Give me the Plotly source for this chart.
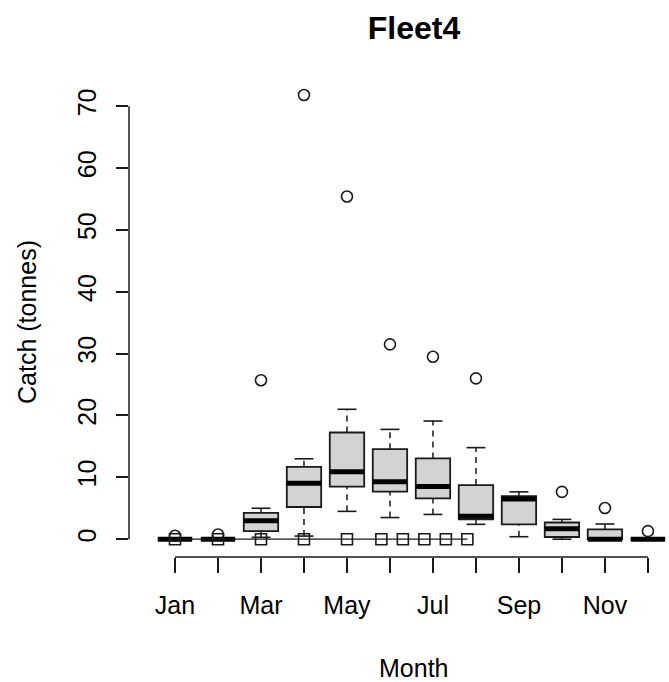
import plotly.graph_objects as go

# ---- data ----
months = ["Jan", "Feb", "Mar", "Apr", "May", "Jun", "Jul", "Aug", "Sep", "Oct", "Nov", "Dec"]
month_tick_text = ["Jan", "", "Mar", "", "May", "", "Jul", "", "Sep", "", "Nov", ""]
month_pos = [1, 2, 3, 4, 5, 6, 7, 8, 9, 10, 11, 12]

q1 = [0, 0, 1.3, 5.2, 8.5, 7.7, 6.6, 3.2, 2.4, 0.35, 0, 0]
median = [0, 0, 3.0, 9.05, 10.9, 9.3, 8.5, 3.7, 6.5, 1.7, 0, 0]
q3 = [0, 0, 4.25, 11.7, 17.25, 14.55, 13.05, 8.75, 6.95, 2.7, 1.6, 0]
whisker_low = [0, 0, 0.3, 0.5, 4.5, 3.5, 4.0, 2.4, 0.4, 0, 0, 0]
whisker_high = [0, 0, 5.0, 13.0, 21.0, 17.75, 19.1, 14.8, 7.65, 3.2, 2.45, 0]

outlier_month = [1, 2, 3, 4, 5, 6, 7, 8, 10, 11, 12]
outlier_value = [0.55, 0.75, 25.7, 71.8, 55.4, 31.5, 29.5, 26.0, 7.65, 5.05, 1.3]

obs_x = [1, 2, 3, 4, 5, 5.8, 6.3, 6.8, 7.3, 7.8]
obs_y = [0, 0, 0, 0, 0, 0, 0, 0, 0, 0]

y_ticks = [0, 10, 20, 30, 40, 50, 60, 70]

# ---- style ----
INK = "#1a1a1a"
FONT = "Liberation Sans, Arial, sans-serif"
BOXW = 0.8
STAPLE = 0.22
FS = 25

fig = go.Figure()

# whiskers (dashed)
wx, wy = [], []
for p, a, b, c, d in zip(month_pos, whisker_low, q1, q3, whisker_high):
    wx += [p, p, None, p, p, None]
    wy += [a, b, None, c, d, None]
fig.add_trace(go.Scatter(x=wx, y=wy, mode="lines", hoverinfo="skip",
                         line=dict(color=INK, width=1.5, dash="6px,5px"), showlegend=False))

# staples
sx, sy = [], []
for p, a, d in zip(month_pos, whisker_low, whisker_high):
    sx += [p - STAPLE, p + STAPLE, None, p - STAPLE, p + STAPLE, None]
    sy += [a, a, None, d, d, None]
fig.add_trace(go.Scatter(x=sx, y=sy, mode="lines", hoverinfo="skip",
                         line=dict(color=INK, width=1.6), showlegend=False))

# boxes
fig.add_trace(go.Box(x=month_pos, q1=q1, median=median, q3=q3,
                     lowerfence=q1, upperfence=q3, width=BOXW,
                     fillcolor="#D3D3D3", line=dict(color=INK, width=1.8),
                     whiskerwidth=0, boxpoints=False, showlegend=False))

# thick medians
mx, my = [], []
for p, m in zip(month_pos, median):
    mx += [p - BOXW / 2, p + BOXW / 2, None]
    my += [m, m, None]
fig.add_trace(go.Scatter(x=mx, y=my, mode="lines", hoverinfo="skip",
                         line=dict(color="#000000", width=5), showlegend=False))

# outliers
fig.add_trace(go.Scatter(x=outlier_month, y=outlier_value, mode="markers",
                         marker=dict(symbol="circle-open", size=11, color=INK,
                                     line=dict(width=1.6, color=INK)),
                         showlegend=False))

# observed line with squares
fig.add_trace(go.Scatter(x=obs_x, y=obs_y, mode="lines+markers",
                         line=dict(color=INK, width=1.3),
                         marker=dict(symbol="square-open", size=11, color=INK,
                                     line=dict(width=1.6, color=INK)),
                         showlegend=False))

W, H = 669, 682
ML, MR, MT, MB = 129, 0, 76, 125

fig.update_layout(
    width=W, height=H,
    margin=dict(l=ML, r=MR, t=MT, b=MB, autoexpand=False),
    paper_bgcolor="white", plot_bgcolor="white",
    font=dict(family=FONT, size=FS, color="#000000"),
    title=dict(text="<b>Fleet4</b>", font=dict(size=32, family=FONT, color="#000000"),
               xref="container", yref="container", x=414 / W, y=1 - 28 / H,
               xanchor="center", yanchor="middle"),
    xaxis=dict(range=[-0.07, 12.49], showgrid=False, zeroline=False, showline=False,
               tickmode="array", tickvals=month_pos, ticktext=month_tick_text,
               ticks="outside", ticklen=15, tickwidth=1.5, tickcolor=INK,
               ticklabelstandoff=11, tickfont=dict(size=FS)),
    yaxis=dict(range=[-2.88, 74.88], showgrid=False, zeroline=False, showline=False,
               tickmode="array", tickvals=y_ticks, ticktext=[str(v) for v in y_ticks],
               ticks="outside", ticklen=12, tickwidth=1.5, tickcolor=INK,
               tickangle=-90, ticklabelstandoff=10, tickfont=dict(size=FS)),
    shapes=[
        dict(type="line", xref="x", yref="paper", x0=month_pos[0], x1=month_pos[-1],
             y0=0, y1=0, line=dict(color=INK, width=1.5)),
        dict(type="line", xref="paper", yref="y", x0=0, x1=0,
             y0=y_ticks[0], y1=y_ticks[-1], line=dict(color=INK, width=1.5)),
    ],
    annotations=[
        dict(text="Month", xref="paper", yref="paper", x=(413 - ML) / (W - ML - MR),
             y=-(668 - (H - MB)) / (H - MT - MB), xanchor="center", yanchor="middle",
             showarrow=False, font=dict(size=FS)),
        dict(text="Catch (tonnes)", xref="paper", yref="paper", x=(27 - ML) / (W - ML - MR),
             y=((H - MB) - 322) / (H - MT - MB), xanchor="center", yanchor="middle",
             textangle=-90, showarrow=False, font=dict(size=FS)),
    ],
)

fig.write_html("out.html", config={"displayModeBar": False},
               post_script="document.body.style.margin='0';document.body.style.overflow='hidden';")
